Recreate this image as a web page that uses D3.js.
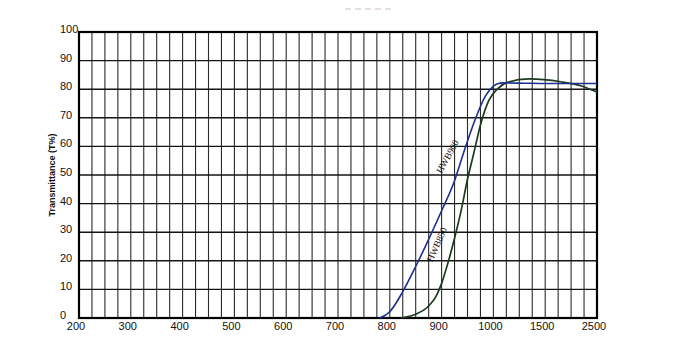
<!DOCTYPE html>
<html>
<head>
<meta charset="utf-8">
<script src="https://cdn.jsdelivr.net/npm/d3@7"></script>
<style>
  body { margin: 0; background: #fff; }
  svg { display: block; }
  .tick-label { font-family: "Liberation Sans Narrow", "Liberation Sans", Arial, sans-serif; font-size: 11px; fill: #111; }
  .axis-title { font-family: "Liberation Sans", Arial, sans-serif; font-size: 9px; font-weight: bold; fill: #111; }
  .curve-label { font-family: "Liberation Serif", "DejaVu Serif", serif; font-size: 9.5px; fill: #111; }
</style>
</head>
<body>
<svg width="676" height="349"></svg>
<script>
// tick labels
var xTicks = [200, 300, 400, 500, 600, 700, 800, 900, 1000, 1500, 2500];
var yTicks = [0, 10, 20, 30, 40, 50, 60, 70, 80, 90, 100];

// vertical grid: every 25nm up to 1000, then a compressed scale
var xGrid = d3.range(200, 1000, 25).concat([1000, 1125, 1250, 1375, 1500, 1750, 2000, 2250, 2500]);

// HWB900 (blue)
var blueWl = [781, 800, 825, 850, 875, 900, 925, 942, 955, 965, 984, 1005, 1040, 1100, 1300, 1500, 2000, 2500];
var blueT  = [0, 2.2, 9.2, 18, 27.5, 37.5, 48, 57.5, 64.5, 69.5, 77.4, 81.2, 81.9, 82.2, 82.1, 82, 82, 82];

// HWB850 (green)
var greenWl = [822, 850, 875, 889, 900, 912, 925, 938, 950, 962, 975, 991, 1045, 1134, 1343, 1800, 2186, 2500];
var greenT  = [0, 1.3, 4.2, 7.5, 12.1, 19.1, 27.9, 37.8, 48.5, 57.5, 67.5, 76, 80.3, 82.4, 83.6, 82.6, 81.2, 79];

// curve label anchors [wavelength, T]
var curveLabels = [
    { text: "HWB900", at: [924, 55.2], angle: -61 },
    { text: "HWB850", at: [904, 24.6], angle: -66 }
];

var svg = d3.select("svg"),
    margin = { top: 32, right: 79, bottom: 31, left: 79 },
    width = +svg.attr("width"),
    height = +svg.attr("height");

var cell = (width - margin.left - margin.right) / 40;

var x = d3.scaleLinear()
    .domain([200, 1000, 1500, 2500])
    .range([margin.left, margin.left + 32 * cell, margin.left + 36 * cell, margin.left + 40 * cell]);

var y = d3.scaleLinear()
    .domain([0, 100])
    .range([height - margin.bottom, margin.top]);

// faint smudge above the chart (scan artefact)
svg.append("line")
    .attr("x1", 345).attr("x2", 395)
    .attr("y1", 9).attr("y2", 9)
    .attr("stroke", "#e8dde2")
    .attr("stroke-width", 2)
    .attr("stroke-dasharray", "6,4");

// grid
svg.append("g")
    .selectAll("line")
    .data(xGrid)
    .enter().append("line")
    .attr("x1", function(d) { return x(d); })
    .attr("x2", function(d) { return x(d); })
    .attr("y1", y(100))
    .attr("y2", y(0))
    .attr("stroke", "#2b2b2b")
    .attr("stroke-width", 1.1);

svg.append("g")
    .selectAll("line")
    .data(yTicks)
    .enter().append("line")
    .attr("x1", x(200))
    .attr("x2", x(2500))
    .attr("y1", function(d) { return y(d); })
    .attr("y2", function(d) { return y(d); })
    .attr("stroke", "#151515")
    .attr("stroke-width", 1.4);

// frame
svg.append("rect")
    .attr("x", x(200))
    .attr("y", y(100))
    .attr("width", x(2500) - x(200))
    .attr("height", y(0) - y(100))
    .attr("fill", "none")
    .attr("stroke", "#000")
    .attr("stroke-width", 2.2);

// curves
var line = d3.line()
    .x(function(d) { return x(d[0]); })
    .y(function(d) { return y(d[1]); })
    .curve(d3.curveMonotoneX);

svg.append("path")
    .datum(d3.zip(greenWl, greenT))
    .attr("d", line)
    .attr("fill", "none")
    .attr("stroke", "#1d3a1f")
    .attr("stroke-width", 1.7);

svg.append("path")
    .datum(d3.zip(blueWl, blueT))
    .attr("d", line)
    .attr("fill", "none")
    .attr("stroke", "#1f2f8f")
    .attr("stroke-width", 1.6);

svg.selectAll(".curve-label")
    .data(curveLabels)
    .enter().append("text")
    .attr("class", "curve-label")
    .attr("text-anchor", "middle")
    .attr("dy", "-0.45em")
    .attr("transform", function(d) {
        return "translate(" + x(d.at[0]) + "," + y(d.at[1]) + ") rotate(" + d.angle + ")";
    })
    .text(function(d) { return d.text; });

// y tick labels (left aligned, as printed)
svg.append("g")
    .selectAll("text")
    .data(yTicks)
    .enter().append("text")
    .attr("class", "tick-label")
    .attr("x", margin.left - 19)
    .attr("y", function(d) { return y(d) + 1; })
    .text(function(d) { return d; });

// x tick labels
svg.append("g")
    .selectAll("text")
    .data(xTicks)
    .enter().append("text")
    .attr("class", "tick-label")
    .attr("text-anchor", "middle")
    .attr("x", function(d) { return x(d) - 3; })
    .attr("y", height - margin.bottom + 12)
    .text(function(d) { return d; });

svg.append("text")
    .attr("class", "axis-title")
    .attr("text-anchor", "middle")
    .attr("transform", "translate(55," + y(50) + ") rotate(-90)")
    .text("Transmittance (T%)");
</script>
</body>
</html>
